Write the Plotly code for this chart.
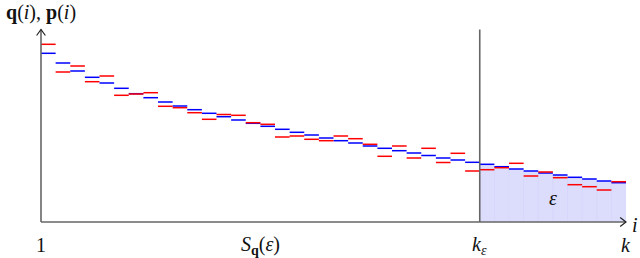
import plotly.graph_objects as go

# q(i) (blue) and p(i) (red), one value per bin i = 1..k
q_vals = [16.87, 15.9, 15.1, 14.47, 13.9, 13.37, 12.83, 12.43, 12.0, 11.6,
          11.23, 10.87, 10.53, 10.2, 9.87, 9.57, 9.27, 8.97, 8.7, 8.4,
          8.13, 7.9, 7.6, 7.37, 7.13, 6.9, 6.65, 6.4, 6.2, 5.97,
          5.77, 5.53, 5.3, 5.1, 4.9, 4.7, 4.47, 4.3, 4.1, 3.93]
p_vals = [17.77, 15.0, 15.6, 14.03, 14.6, 12.67, 12.8, 12.93, 11.57, 11.43,
          10.93, 10.27, 10.75, 10.67, 9.93, 9.77, 8.5, 8.6, 8.27, 8.13,
          8.6, 8.33, 7.77, 6.57, 7.6, 6.4, 7.37, 5.95, 6.87, 5.1,
          5.23, 5.43, 5.87, 4.6, 5.0, 4.43, 3.73, 3.53, 3.2, 4.03]
k = len(q_vals)
k_eps = 30          # tail starts here (shaded area = epsilon)
y_top = 19.25

tick_pos = [0, 15.0, k_eps, k]
tick_text = ["1", "<i>S</i><sub><b>q</b></sub>(<i>ε</i>)",
             "<i>k</i><sub><i>ε</i></sub>", "<i>k</i>"]

AXIS = "#666666"
FONT = "Liberation Serif"


def steps(vals):
    xs, ys = [], []
    for i, v in enumerate(vals):
        xs += [i, i + 1, None]
        ys += [v, v, None]
    return xs, ys


fig = go.Figure()

# shaded tail under q
tail = list(range(k_eps, k))
fig.add_trace(go.Bar(
    x=[i + 0.5 for i in tail],
    y=[q_vals[i] for i in tail],
    width=1,
    marker_color="rgba(70,70,240,0.19)",
    marker_line_color="rgba(90,90,230,0.04)",
    marker_line_width=0.6,
    hoverinfo="skip",
))

bx, by = steps(q_vals)
rx, ry = steps(p_vals)
fig.add_trace(go.Scatter(x=bx, y=by, mode="lines",
                         line=dict(color="#0000ff", width=1.5), hoverinfo="skip"))
fig.add_trace(go.Scatter(x=rx, y=ry, mode="lines",
                         line=dict(color="#ff0000", width=1.5), hoverinfo="skip"))

# axes with open arrow heads, and the k_eps marker line
line = dict(color=AXIS, width=1.6)
fig.add_shape(type="line", x0=0, y0=0, x1=k, y1=0, line=line)
fig.add_shape(type="line", x0=0, y0=0, x1=0, y1=y_top, line=line)
fig.add_shape(type="line", x0=k_eps, y0=0, x1=k_eps, y1=y_top, line=line)
fig.add_shape(type="path", path=f"M {k-0.4},0.45 L {k},0 L {k-0.4},-0.45",
              line=dict(color="#222222", width=1.2))
fig.add_shape(type="path",
              path=f"M -0.3,{y_top-0.6} L 0,{y_top} L 0.3,{y_top-0.6}",
              line=dict(color="#222222", width=1.2))

font = dict(family=FONT, size=20, color="#111111")
for xp, t in zip(tick_pos, tick_text):
    fig.add_annotation(x=xp, y=-2.3, text=t, showarrow=False, font=font)
fig.add_annotation(x=40.95, y=-0.3, text="<i>i</i>", showarrow=False,
                   xanchor="right", font=font)
fig.add_annotation(x=0, y=21.0, text="<b>q</b>(<i>i</i>), <b>p</b>(<i>i</i>)",
                   showarrow=False, font=font)
fig.add_annotation(x=35.0, y=2.4, text="<i>ε</i>", showarrow=False, font=font)

# plot area = whole figure; x 0..40 -> 41..626 px, y 0 -> 222 px, 10 px per unit
fig.update_layout(
    width=640, height=258,
    margin=dict(l=0, r=0, t=0, b=0),
    xaxis=dict(range=[-41 / 14.625, k + 14 / 14.625], visible=False),
    yaxis=dict(range=[-3.6, 22.2], visible=False),
    showlegend=False,
    barmode="overlay",
    plot_bgcolor="white",
    paper_bgcolor="white",
)

fig.write_html("out.html", config={"displayModeBar": False},
               post_script="document.body.style.margin='0';")
